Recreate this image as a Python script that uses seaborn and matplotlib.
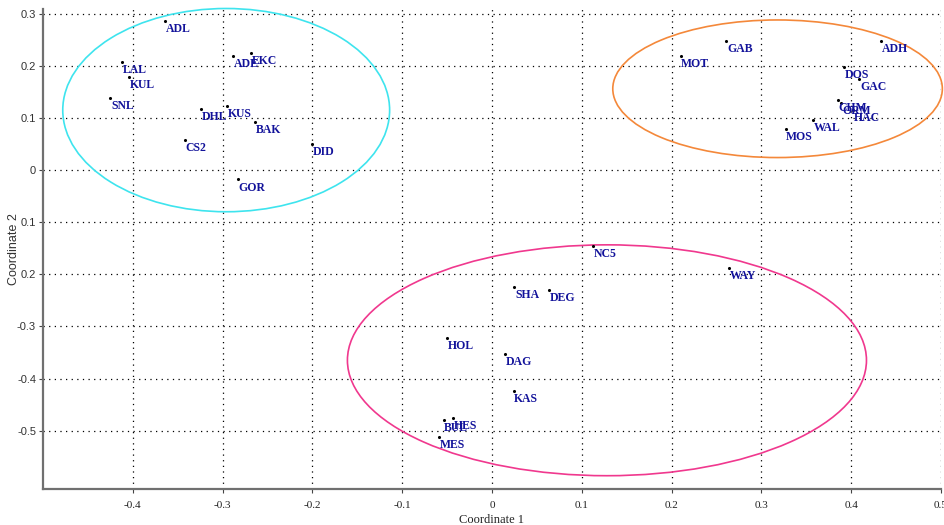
import matplotlib
matplotlib.use("Agg")
import matplotlib.pyplot as plt
import seaborn as sns
import pandas as pd
from matplotlib.patches import Ellipse

# ---- data ----
labels = ["ADL", "ADE", "EKC", "LAL", "KUL", "SNL", "DHL", "KUS", "BAK", "CS2", "DID", "GOR",
          "GAB", "MOT", "ADH", "DOS", "GAC", "CHM", "ORM", "HAC", "WAL", "MOS",
          "NC5", "WAY", "SHA", "DEG", "HOL", "DAG", "KAS", "BUL", "HES", "MES"]
coord1 = [-0.364, -0.288, -0.268, -0.412, -0.404, -0.425, -0.324, -0.295, -0.264, -0.342, -0.200, -0.283,
          0.261, 0.210, 0.433, 0.392, 0.409, 0.385, 0.389, 0.402, 0.358, 0.327,
          0.112, 0.264, 0.025, 0.063, -0.050, 0.015, 0.024, -0.054, -0.043, -0.059]
coord2 = [0.286, 0.219, 0.224, 0.207, 0.178, 0.139, 0.117, 0.123, 0.093, 0.058, 0.050, -0.018,
          0.248, 0.219, 0.248, 0.198, 0.175, 0.134, 0.128, 0.115, 0.096, 0.079,
          -0.145, -0.187, -0.225, -0.230, -0.322, -0.352, -0.423, -0.480, -0.475, -0.513]

# group ellipses: center x, center y, width, height
ell_cx = [-0.296, 0.318, 0.128]
ell_cy = [0.115, 0.156, -0.365]
ell_w = [0.364, 0.367, 0.578]
ell_h = [0.390, 0.264, 0.443]
ell_colors = ["#3ee4ee", "#f4883a", "#f0388e"]

xticks = [-0.4, -0.3, -0.2, -0.1, 0, 0.1, 0.2, 0.3, 0.4, 0.5]
xticklabels = ["-0.4", "-0.3", "-0.2", "-0.1", "0", "0.1", "0.2", "0.3", "0.4", "0.5"]
yticks = [0.3, 0.2, 0.1, 0, -0.1, -0.2, -0.3, -0.4, -0.5]
yticklabels = ["0.3", "0.2", "0.1", "0", "0.1", "0.2", "-0.3", "-0.4", "-0.5"]

df = pd.DataFrame({"Coordinate 1": coord1, "Coordinate 2": coord2, "label": labels})

sns.set_theme(style="white")
plt.rcParams["font.family"] = ["Liberation Sans", "DejaVu Sans"]

fig = plt.figure(figsize=(9.45, 5.25), dpi=100)
ax = fig.add_axes([43 / 945, (525 - 489) / 525, 898 / 945, 480.5 / 525])

ax.set_xlim(-0.5, 0.5)
ax.set_ylim(-0.612, 0.31)

# grid
ax.set_xticks(xticks)
ax.set_yticks(yticks)
ax.grid(True, color="black", linestyle=(0, (1, 3.5)), linewidth=0.9)
ax.set_axisbelow(True)

# ellipses
for cx, cy, w, h, c in zip(ell_cx, ell_cy, ell_w, ell_h, ell_colors):
    ax.add_patch(Ellipse((cx, cy), w, h, fill=False, edgecolor=c, linewidth=1.2,
                         zorder=2, clip_on=False))

sns.scatterplot(data=df, x="Coordinate 1", y="Coordinate 2", ax=ax, color="black",
                s=5, linewidth=0, zorder=3, legend=False)

for lab, x, y in zip(labels, coord1, coord2):
    ax.annotate(lab, (x, y), xytext=(0.5, -1.5), textcoords="offset points",
                ha="left", va="top", fontsize=8.5, fontweight="bold",
                family=["Liberation Serif", "DejaVu Serif"], color="#12129a", zorder=4)

ax.set_xticklabels(xticklabels, family=["Liberation Serif"], fontsize=8, color="#222222")
ax.set_yticklabels(yticklabels, family=["Liberation Sans"], fontsize=8, color="#333333")
ax.tick_params(axis="both", which="both", direction="out", length=3, width=0.8,
               color="#444444", pad=2, bottom=True, left=True)
ax.tick_params(axis="x", pad=6)

for side in ["top", "right"]:
    ax.spines[side].set_visible(False)
for side in ["left", "bottom"]:
    ax.spines[side].set_color("#707070")
    ax.spines[side].set_linewidth(1.6)

ax.set_xlabel("Coordinate 1", family=["Liberation Serif"], fontsize=9, color="#222222")
ax.set_ylabel("Coordinate 2", family=["Liberation Sans"], fontsize=9, color="#333333")
ax.xaxis.set_label_coords(0.5, -0.052)
ax.yaxis.set_label_coords(-0.026, 0.5)

fig.savefig("out.png", dpi=100)
